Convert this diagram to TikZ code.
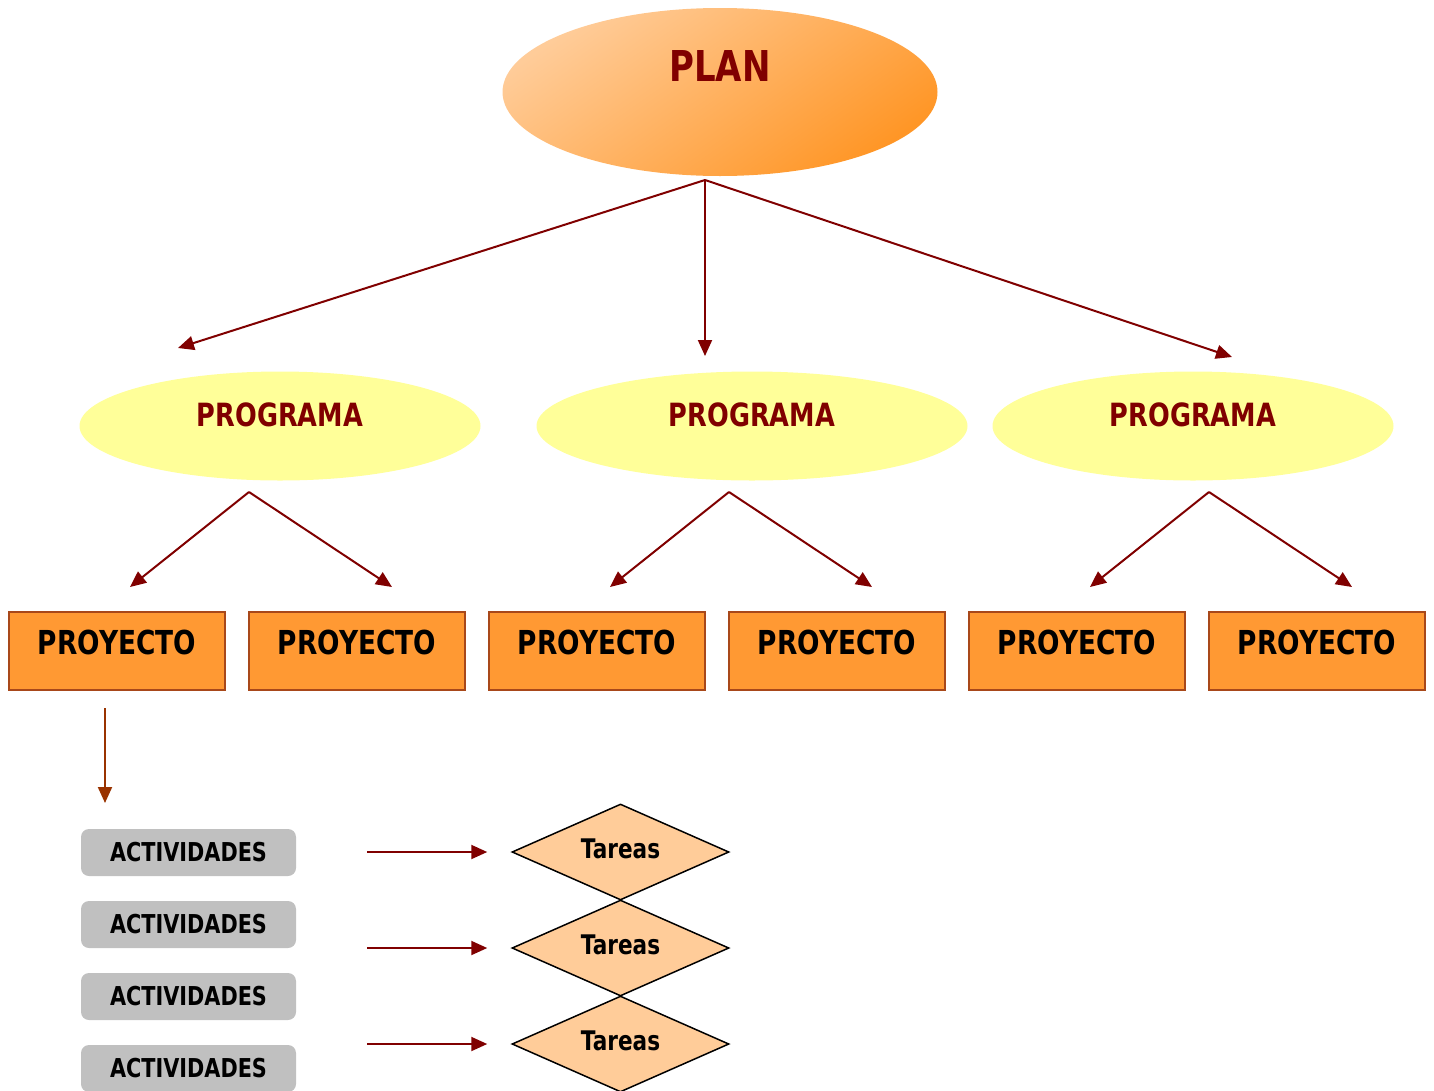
\documentclass[tikz,border=0pt]{standalone}
\usepackage{fontspec}
\setmainfont{DejaVu Sans}[FakeStretch=0.8]
\usetikzlibrary{shapes.geometric,positioning,arrows.meta}

\definecolor{planred}{HTML}{800000}
\definecolor{planlight}{HTML}{FFCC99}
\definecolor{plandark}{HTML}{FF9626}
\definecolor{progyellow}{HTML}{FFFF99}
\definecolor{projorange}{HTML}{FF9933}
\definecolor{projline}{HTML}{A8481A}
\definecolor{actgray}{HTML}{C0C0C0}
\definecolor{tareaorange}{HTML}{FFCC99}
\definecolor{downbrown}{HTML}{993300}

\newcommand{\setfs}[1]{\fontsize{#1}{#1}\selectfont\bfseries}

\tikzset{
  plan/.style={ellipse,minimum width=435pt,minimum height=168pt,inner sep=0pt,
    top color=planlight,bottom color=plandark,shading angle=35,
    text=planred,font=\setfs{42.5},text depth=52pt},
  prog/.style={ellipse,fill=progyellow,minimum width=401pt,minimum height=109pt,
    inner sep=0pt,text=planred,font=\setfs{32},text depth=22pt},
  proj/.style={rectangle,draw=projline,line width=1.5pt,fill=projorange,
    minimum width=216pt,minimum height=78pt,inner sep=0pt,font=\setfs{33},text depth=18pt},
  act/.style={rectangle,rounded corners=8pt,fill=actgray,minimum width=215pt,
    minimum height=47pt,inner sep=0pt,font=\setfs{26}},
  tarea/.style={diamond,draw=black,line width=1.5pt,fill=tareaorange,aspect=2.26,
    minimum width=217pt,minimum height=96pt,inner sep=0pt,font=\setfs{27},text depth=6pt}
}

\begin{document}
\begin{tikzpicture}[x=1pt,y=-1pt,node distance=240pt,on grid,line width=2pt,
  >={Triangle[length=16pt,width=14pt]}]
\useasboundingbox (0,0) rectangle (1434,1090);

\node[plan] (plan) at (720,92) {PLAN};

\node[prog] (prog_1) at (280,426) {PROGRAMA};
\node[prog,minimum width=431pt] (prog_2) at (752,426) {PROGRAMA};
\node[prog] (prog_3) at (1193,426) {PROGRAMA};

\node[proj] (proj_1) at (117,651) {PROYECTO};
\node[proj] (proj_2) [right=of proj_1] {PROYECTO};
\node[proj] (proj_3) [right=of proj_2] {PROYECTO};
\node[proj] (proj_4) [right=of proj_3] {PROYECTO};
\node[proj] (proj_5) [right=of proj_4] {PROYECTO};
\node[proj] (proj_6) [right=of proj_5] {PROYECTO};

\node[act] (act_1) at (188.5,852.5) {ACTIVIDADES};
\node[act] (act_2) [below=72pt of act_1] {ACTIVIDADES};
\node[act] (act_3) [below=72pt of act_2] {ACTIVIDADES};
\node[act] (act_4) [below=72pt of act_3] {ACTIVIDADES};

\node[tarea] (tar_1) at (620.5,852) {Tareas};
\node[tarea] (tar_2) [below=96pt of tar_1] {Tareas};
\node[tarea] (tar_3) [below=96pt of tar_2] {Tareas};

%% plan -> programas
\coordinate (plan_out) at (705,180);
\coordinate (prog_1_in) at (178,348);
\coordinate (prog_2_in) at (705,356);
\coordinate (prog_3_in) at (1232,357);
\path[->,planred] (plan_out) edge (prog_1_in) edge (prog_2_in) edge (prog_3_in);

%% programas -> proyectos
\foreach \i/\x in {1/249,2/729,3/1209}{
  \coordinate (prog_\i_out) at (\x,492);
  \coordinate (left_\i) at (\x-119,587);
  \coordinate (right_\i) at (\x+143,587);
  \path[->,planred] (prog_\i_out) edge (left_\i) edge (right_\i);
}

%% proyecto -> actividades
\coordinate (proj_1_out) at (105,708);
\coordinate (act_in) at (105,803);
\draw[->,downbrown] (proj_1_out) -- (act_in);

%% -> tareas
\foreach \i in {1,2,3}
  \draw[->,planred] ([xshift=-144pt]tar_\i.west) -- ([xshift=-24pt]tar_\i.west);
\end{tikzpicture}
\end{document}
